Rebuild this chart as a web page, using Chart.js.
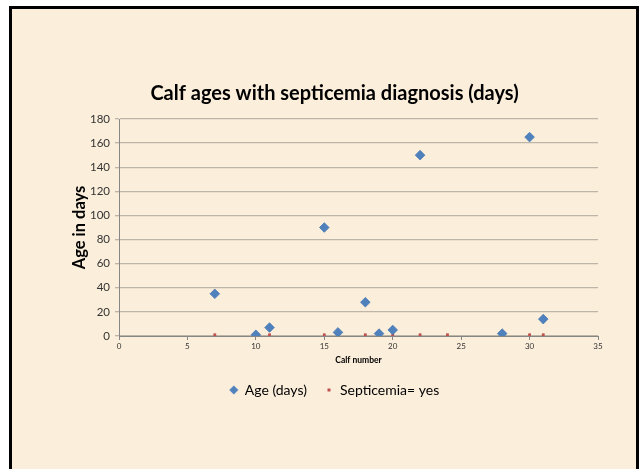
<!DOCTYPE html>
<html>
<head>
<meta charset="utf-8">
<script src="https://cdn.jsdelivr.net/npm/chart.js@4/dist/chart.umd.min.js"></script>
<style>
  html, body { margin: 0; padding: 0; background: #ffffff; width: 639px; height: 469px; overflow: hidden; }
  #frame { position: absolute; left: 9px; top: 6px; width: 624px; height: 520px; border: 3px solid #000; background: #FBEEDB; box-sizing: content-box; }
  #wrap { position: absolute; left: 0; top: 0; width: 639px; height: 469px; }
</style>
</head>
<body>
<div id="frame"></div>
<div id="wrap"><canvas id="c" width="639" height="469"></canvas></div>
<script>
// Data
const calfNumbers = [7, 10, 11, 15, 16, 18, 19, 20, 22, 28, 30, 31];
const ageDays     = [35, 1, 7, 90, 3, 28, 2, 5, 150, 2, 165, 14];
const septicemiaCalves = [7, 10, 11, 15, 16, 18, 19, 20, 22, 24, 28, 30, 31];
const septicemiaValue  = [1, 1, 1, 1, 1, 1, 1, 1, 1, 1, 1, 1, 1];
const seriesNames = ['Age (days)', 'Septicemia= yes'];
const chartTitle = 'Calf ages with septicemia diagnosis (days)';
const xAxisTitle = 'Calf number';
const yAxisTitle = 'Age in days';

const FONT = 'Lato, "Open Sans", sans-serif';
const BLUE = '#4F81BD';
const RED = '#C0504D';

function makeIcon(kind) {
  const cv = document.createElement('canvas');
  if (kind === 'diamond') {
    cv.width = 10; cv.height = 10;
    const g = cv.getContext('2d');
    g.fillStyle = BLUE;
    g.beginPath(); g.moveTo(5, 0.5); g.lineTo(9.5, 5); g.lineTo(5, 9.5); g.lineTo(0.5, 5); g.closePath(); g.fill();
  } else {
    cv.width = 4; cv.height = 4;
    const g = cv.getContext('2d');
    g.fillStyle = RED;
    g.fillRect(0.5, 0.5, 3, 3);
  }
  return cv;
}
const icons = [makeIcon('diamond'), makeIcon('square')];

const ageData = calfNumbers.map((x, i) => ({ x: x, y: ageDays[i] }));
const sepData = septicemiaCalves.map((x, i) => ({ x: x, y: septicemiaValue[i] }));

new Chart(document.getElementById('c'), {
  type: 'scatter',
  data: {
    datasets: [
      { label: seriesNames[0], data: ageData, pointStyle: 'rectRot', pointRadius: 4.8, pointHoverRadius: 4.8,
        backgroundColor: BLUE, borderColor: '#4677B3', borderWidth: 0.8 },
      { label: seriesNames[1], data: sepData, pointStyle: 'rect', pointRadius: 2, pointHoverRadius: 2,
        backgroundColor: RED, borderColor: RED, borderWidth: 0 }
    ]
  },
  options: {
    responsive: false,
    animation: false,
    events: [],
    layout: { padding: { left: 71, right: 41, top: 0, bottom: 62 } },
    plugins: {
      title: {
        display: true, text: chartTitle, color: '#000',
        font: { family: FONT, size: 20, weight: 'bold', lineHeight: 1.2 },
        padding: { top: 82, bottom: 13 }
      },
      legend: {
        display: true, position: 'bottom',
        labels: {
          usePointStyle: true, pointStyleWidth: 8, boxHeight: 8, padding: 18,
          color: '#000', font: { family: FONT, size: 14 },
          generateLabels(chart) {
            const items = Chart.defaults.plugins.legend.labels.generateLabels(chart);
            items.forEach((it, i) => { it.pointStyle = icons[i]; });
            return items;
          }
        }
      },
      tooltip: { enabled: false }
    },
    scales: {
      x: {
        type: 'linear', min: 0, max: 35,
        afterFit(scale) { scale.height = 29; },
        ticks: { stepSize: 5, color: '#333333', font: { family: FONT, size: 8 }, padding: 2, maxRotation: 0 },
        grid: { drawOnChartArea: false, drawTicks: true, tickLength: 4, color: '#868686' },
        border: { display: true, color: '#868686', width: 1 },
        title: { display: true, text: xAxisTitle, color: '#000', font: { family: FONT, size: 8.5, weight: 'bold', lineHeight: 1.2 }, padding: { top: 0, bottom: 0 } }
      },
      y: {
        type: 'linear', min: 0, max: 180,
        afterFit(scale) { scale.width = 48; },
        ticks: { stepSize: 20, color: '#333333', font: { family: FONT, size: 11.5 }, padding: 5 },
        grid: { drawTicks: true, tickLength: 4, color: '#BDB6A8', lineWidth: 1.3 },
        border: { display: true, color: '#868686', width: 1 },
        title: { display: true, text: yAxisTitle, color: '#000', font: { family: FONT, size: 16.5, weight: 'bold', lineHeight: 1.0 }, padding: { top: 0, bottom: 0 } }
      }
    }
  }
});
</script>
</body>
</html>
